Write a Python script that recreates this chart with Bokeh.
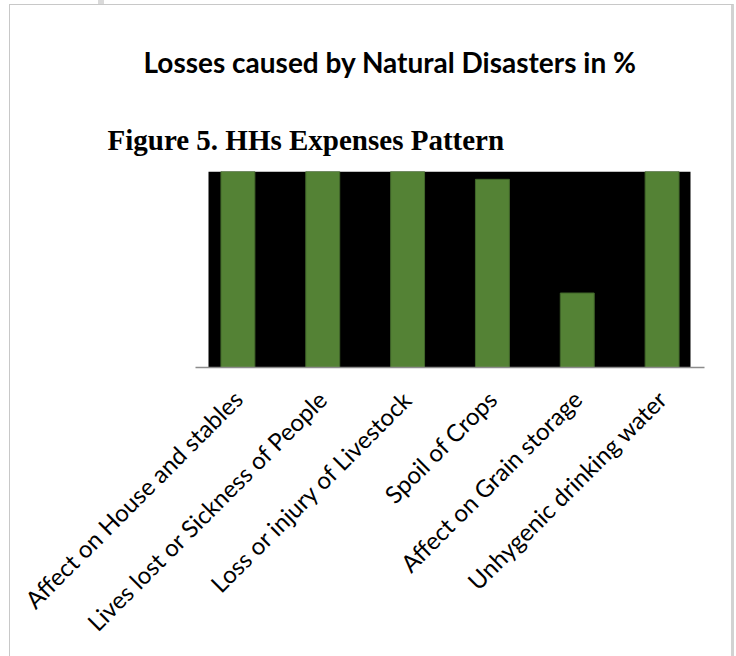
import math

from bokeh.plotting import figure
from bokeh.models import Range1d, FixedTicker, Title, BoxAnnotation, ColumnDataSource
from bokeh.embed import file_html
from bokeh.resources import INLINE

# --- data -------------------------------------------------------------
categories = [
    "Affect on House and stables",
    "Lives lost or Sickness of People",
    "Loss or injury of Livestock",
    "Spoil of Crops",
    "Affect on Grain storage",
    "Unhygenic drinking water",
]
losses_pct = [100, 100, 100, 96, 38, 100]

chart_title = "Losses caused by Natural Disasters in %"
caption = "Figure 5. HHs Expenses Pattern"

# --- layout (pixels) --------------------------------------------------
W, H = 736, 656
FL, FR, FT, FB = 195, 704, 171, 367  # plot frame edges
Y_MAX = 100
n = len(categories)

px_x = (FR - FL) / n
px_y = (FB - FT) / Y_MAX


def xd(px):
    """canvas x pixel -> data x"""
    return (px - FL) / px_x


def yd(py):
    """canvas y pixel -> data y"""
    return (FB - py) / px_y


# light page frame drawn behind the (transparent) canvas
frame_css = {
    "background": (
        "linear-gradient(#c8c8c8,#c8c8c8) 9px 4px / 1px 100% no-repeat,"
        "linear-gradient(#c8c8c8,#c8c8c8) 9px 4px / 724px 1px no-repeat,"
        "linear-gradient(#d2d2d2,#d2d2d2) 731px 4px / 3px 100% no-repeat,"
        "linear-gradient(#dadada,#dadada) 98px 0px / 6px 4px no-repeat"
    ),
}

p = figure(
    width=W, height=H,
    x_range=Range1d(0, n), y_range=Range1d(0, Y_MAX),
    y_axis_location=None, title=None,
    output_backend="svg", toolbar_location=None,
    min_border_left=FL, min_border_right=W - FR,
    min_border_top=FT, min_border_bottom=H - FB,
    styles=frame_css,
)
p.outline_line_color = None
p.grid.visible = False
p.background_fill_color = "white"
p.border_fill_color = None

# black panel behind the bars
p.add_layout(BoxAnnotation(left=xd(208), right=xd(690), top=Y_MAX, bottom=yd(369),
                           fill_color="black", fill_alpha=1.0, line_color=None,
                           level="underlay"))

# bars
xs = [i + 0.5 for i in range(n)]
src = ColumnDataSource(dict(x=xs, top=losses_pct, name=categories))
p.vbar(x="x", top="top", bottom=0, width=0.4, source=src,
       fill_color="#548235", line_color="#40662a", line_width=1)

# category axis
ax = p.xaxis[0]
ax.ticker = FixedTicker(ticks=xs)
ax.major_label_overrides = {x: c for x, c in zip(xs, categories)}
ax.major_label_orientation = math.pi / 4
ax.major_label_text_font = "Lato"
ax.major_label_text_font_size = "24px"
ax.major_label_text_color = "black"
ax.major_label_standoff = 21
ax.major_tick_line_color = None
ax.minor_tick_line_color = None
ax.axis_line_color = "#8c8c8c"
ax.axis_line_width = 1.5

# headings: caption sits next to the frame, chart title above it
p.add_layout(Title(text=caption, align="left", offset=107 - FL, standoff=31,
                   text_font="Liberation Serif", text_font_style="bold",
                   text_font_size="29px", text_color="black"), "above")
p.add_layout(Title(text=chart_title, align="left", offset=143 - FL,
                   standoff=56, text_font="Lato", text_font_style="bold",
                   text_font_size="28px", text_color="black"), "above")

open("out.html", "w").write(file_html(p, INLINE))
